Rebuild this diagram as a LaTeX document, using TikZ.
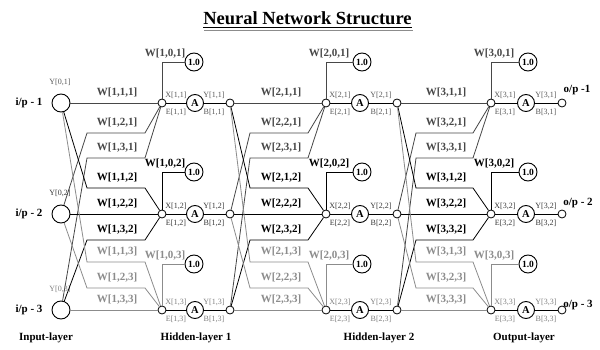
\documentclass[tikz,border=0pt]{standalone}
\usepackage{fontspec}
\setmainfont{Liberation Serif}
\usetikzlibrary{calc}
\colorlet{row1}{black!72}
\colorlet{row2}{black}
\colorlet{row3}{black!45}
\colorlet{srow1}{black!65}
\colorlet{srow2}{black!78}
\colorlet{srow3}{black!50}
\begin{document}
\begin{tikzpicture}[x=1pt,y=-1pt,
  inp/.style={circle,draw,line width=0.9pt,fill=white,minimum size=18pt,inner sep=0pt},
  dot/.style={circle,draw,line width=0.8pt,fill=white,minimum size=8pt,inner sep=0pt},
  act/.style={circle,draw,line width=0.9pt,fill=white,minimum size=17pt,inner sep=0pt,font=\bfseries\fontsize{10.5}{10}\selectfont},
  bias/.style={circle,draw,line width=0.9pt,fill=white,minimum size=18pt,inner sep=0pt,font=\bfseries\fontsize{9.5}{10}\selectfont},
  wlab/.style={inner sep=0pt,font=\bfseries\fontsize{11}{11}\selectfont},
  slab/.style={inner sep=0pt,font=\fontsize{8}{8}\selectfont},
  big/.style={inner sep=0pt,font=\bfseries\fontsize{11}{11}\selectfont},
  wire/.style={line width=0.8pt}
]
\useasboundingbox (0,0) rectangle (600,350);
\fill[white] (0,0) rectangle (600,350);

% title
\node[inner sep=0pt,anchor=base,font=\bfseries\fontsize{18.5}{20}\selectfont] (title) at (307.5,25) {Neural Network Structure};
\draw[line width=1.2pt] ([yshift=-2.5pt]title.base west) -- ([yshift=-2.5pt]title.base east);
\draw[line width=1.6pt,black!45] ([yshift=-5.5pt,xshift=1pt]title.base west) -- ([yshift=-5.5pt,xshift=1pt]title.base east);

% inputs
\foreach \j/\yy in {1/103,2/214,3/310} {
  \node[inp] (y-0-\j) at (61,\yy) {};
  \node[slab,text=srow\j] (ylab-0-\j) at (60,\yy-21) {Y[0,\j]};
  \node[big] (ip-\j) at (29,\yy) {i/p - \j};
}

% neurons
\foreach \l/\xx/\xa/\xy/\xb in {1/162/195/230/194, 2/326/360/397/362, 3/491/526/562/528} {
  \foreach \j/\yy/\by in {1/103/62, 2/214/172, 3/310/264} {
    \node[dot] (x-\l-\j) at (\xx,\yy) {};
    \node[act] (a-\l-\j) at (\xa,\yy) {A};
    \node[dot] (y-\l-\j) at (\xy,\yy) {};
    \node[bias] (b-\l-\j) at (\xb,\by) {1.0};
    \draw[wire] (x-\l-\j) -- (a-\l-\j) -- (y-\l-\j);
    \draw[wire,color=row\j] (x-\l-\j) |- (b-\l-\j);
    \node[wlab,text=row\j] (wb-\l-\j) at (\xx+3,\by-8) {W[\l,0,\j]};
    \node[slab,text=srow\j] (xl-\l-\j) at (\xx+14,\yy-8) {X[\l,\j]};
    \node[slab,text=srow\j] (el-\l-\j) at (\xx+14,\yy+9) {E[\l,\j]};
    \node[slab,text=srow\j] (yl-\l-\j) at (\xy-16,\yy-8) {Y[\l,\j]};
    \node[slab,text=srow\j] (bl-\l-\j) at (\xy-16,\yy+9) {B[\l,\j]};
  }
}

% weights
\foreach \l/\lp/\xs/\xe/\xm in {1/0/87/145/117, 2/1/250/308/281, 3/2/416/473/446} {
  \foreach \i/\j/\hy in {1/1/103, 2/1/133, 3/1/158, 1/2/188, 2/2/214, 3/2/240, 1/3/262, 2/3/288, 3/3/310} {
    \ifnum\i=\j
      \draw[wire,color=row\j] (y-\lp-\i) -- (x-\l-\j);
    \else
      \draw[wire,color=row\j] (y-\lp-\i) -- (\xs,\hy) -- (\xe,\hy) -- (x-\l-\j);
    \fi
    \node[wlab,text=row\j] (w-\l-\i-\j) at (\xm,\hy-10) {W[\l,\i,\j]};
  }
}

% outputs
\node[big] (op1) at (577,90) {o/p -1};
\node[big] (op2) at (578,203) {o/p - 2};
\node[big] (op3) at (578,305) {o/p - 3};

% layer names
\node[big] (L0) at (46,338) {Input-layer};
\node[big] (L1) at (196,338) {Hidden-layer 1};
\node[big] (L2) at (379,338) {Hidden-layer 2};
\node[big] (L3) at (524,338) {Output-layer};
\end{tikzpicture}
\end{document}
